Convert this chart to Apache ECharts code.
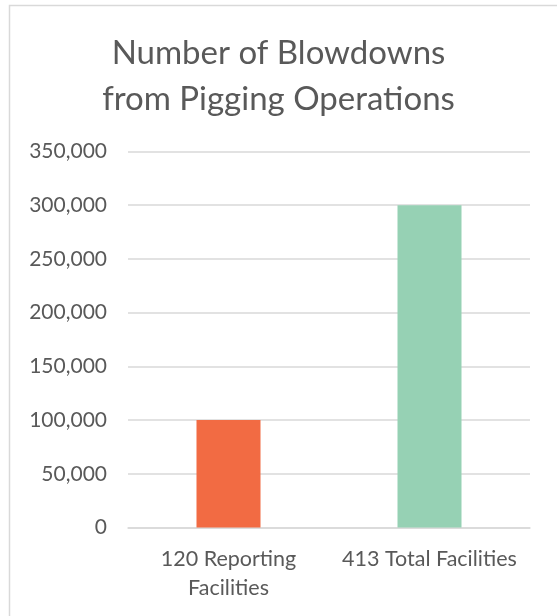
<!DOCTYPE html>
<html>
<head>
<meta charset="utf-8">
<script src="https://cdn.jsdelivr.net/npm/echarts@6/dist/echarts.min.js"></script>
<style>
  html, body { margin: 0; padding: 0; background: #fff; }
  #chart { width: 557px; height: 616px; }
</style>
</head>
<body>
<div id="chart"></div>
<script>
// Blowdowns from pigging operations, by facility group
const categories = ['120 Reporting\nFacilities', '413 Total Facilities'];
const blowdowns = [100000, 300000];
const barColors = ['#F26B43', '#96D1B4'];
const yTicks = { min: 0, max: 350000, interval: 50000 };

const FONT = 'Lato, "Noto Sans", sans-serif';
const chart = echarts.init(document.getElementById('chart'), null, { renderer: 'canvas' });

chart.setOption({
  backgroundColor: '#ffffff',
  animation: false,
  graphic: [{
    type: 'rect',
    shape: { x: 9.5, y: 5.5, width: 600, height: 650 },
    style: { fill: 'none', stroke: '#d9d9d9', lineWidth: 1.5 },
    silent: true
  }],
  title: {
    text: 'Number of Blowdowns\nfrom Pigging Operations',
    left: 'center',
    top: 25,
    textStyle: {
      fontFamily: FONT,
      fontWeight: 'normal',
      fontSize: 33,
      lineHeight: 46,
      color: '#595959'
    }
  },
  grid: { left: 128, right: 27, top: 151.5, bottom: 88.5, containLabel: false },
  xAxis: {
    type: 'category',
    data: categories,
    axisLine: { show: true, lineStyle: { color: '#d9d9d9', width: 1.5 } },
    axisTick: { show: false },
    axisLabel: {
      fontFamily: FONT,
      fontSize: 21.5,
      lineHeight: 29,
      color: '#595959',
      margin: 17,
      interval: 0
    }
  },
  yAxis: {
    type: 'value',
    min: yTicks.min,
    max: yTicks.max,
    interval: yTicks.interval,
    axisLine: { show: false },
    axisTick: { show: false },
    splitLine: { lineStyle: { color: '#d9d9d9', width: 1.5 } },
    axisLabel: {
      fontFamily: FONT,
      fontSize: 21,
      color: '#595959',
      margin: 21,
      formatter: v => v.toLocaleString('en-US')
    }
  },
  series: [{
    type: 'bar',
    data: blowdowns.map((v, i) => ({ value: v, itemStyle: { color: barColors[i] } })),
    barWidth: 64
  }]
});
</script>
</body>
</html>
